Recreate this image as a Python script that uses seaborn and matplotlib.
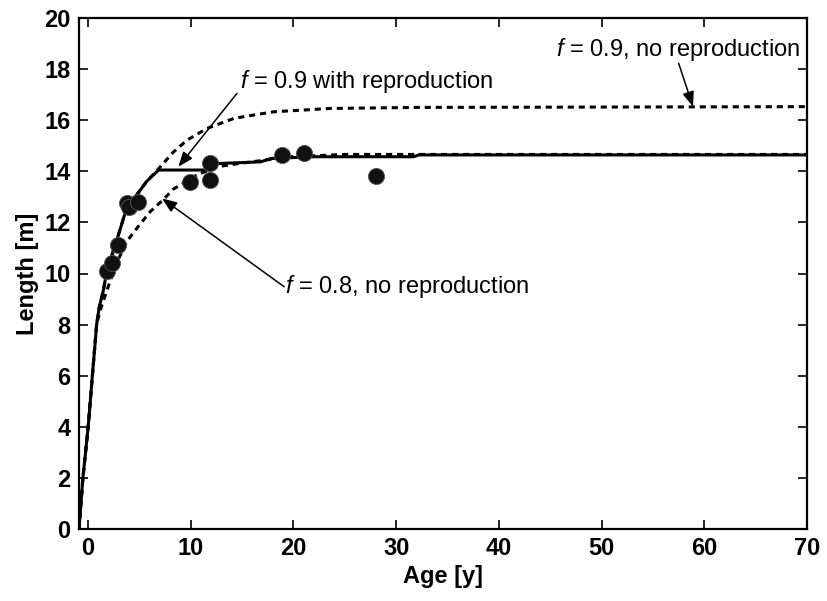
import matplotlib
matplotlib.use("Agg")
import matplotlib.pyplot as plt
import seaborn as sns
import pandas as pd

# ---- data ----
age_rep = [-0.88, -0.5, 0.03, 0.42, 0.85, 1.1, 1.5, 1.82, 2.64, 3.6, 4.6, 5.7, 6.87,
           11.6, 12.4, 16.8, 17.8, 22.0, 31.7, 32.2, 70.0]
len_rep = [0.0, 2.0, 4.07, 6.0, 8.05, 8.7, 9.35, 10.1, 11.1, 12.35, 13.0, 13.6, 14.05,
           14.05, 14.3, 14.37, 14.5, 14.57, 14.57, 14.64, 14.64]

age_f09 = [-0.88, -0.5, 0.03, 0.42, 0.85, 1.1, 1.5, 1.82, 2.64, 3.6, 4.6, 5.7, 6.87,
           8.3, 9.64, 11.6, 14.2, 15.8, 18.1, 23.6, 32.0, 70.0]
len_f09 = [0.0, 2.0, 4.07, 6.0, 8.05, 8.7, 9.35, 10.1, 11.1, 12.35, 13.0, 13.6, 14.1,
           14.75, 15.22, 15.68, 16.07, 16.18, 16.33, 16.46, 16.5, 16.53]

age_f08 = [-0.88, -0.5, 0.03, 0.42, 0.85, 1.3, 2.15, 3.0, 3.77, 4.75, 6.05, 7.35, 8.3,
           10.6, 12.6, 14.8, 19.7, 25.0, 70.0]
len_f08 = [0.0, 2.0, 4.07, 6.0, 8.05, 8.7, 9.7, 10.6, 11.25, 11.77, 12.42, 12.9, 13.3,
           13.86, 14.18, 14.31, 14.57, 14.66, 14.66]

obs_age = [1.82, 2.3, 2.96, 3.78, 4.0, 4.9, 9.96, 11.9, 11.9, 18.9, 21.0, 28.0]
obs_len = [10.1, 10.4, 11.1, 12.75, 12.6, 12.8, 13.6, 13.66, 14.31, 14.64, 14.72, 13.81]

x_ticks = [0, 10, 20, 30, 40, 50, 60, 70]
y_ticks = [0, 2, 4, 6, 8, 10, 12, 14, 16, 18, 20]

sns.set_theme(style="ticks")
plt.rcParams["font.family"] = ["Liberation Sans", "DejaVu Sans"]
plt.rcParams["mathtext.fontset"] = "custom"
plt.rcParams["mathtext.it"] = "Liberation Sans:italic"
plt.rcParams["mathtext.rm"] = "Liberation Sans"
plt.rcParams["text.color"] = "black"
plt.rcParams["axes.labelcolor"] = "black"
plt.rcParams["xtick.color"] = "black"
plt.rcParams["ytick.color"] = "black"

fig = plt.figure(figsize=(8.27, 6.01), dpi=100)
ax = fig.add_axes([79 / 827, 1 - 529 / 601, (807 - 79) / 827, (529 - 18) / 601])

df_rep = pd.DataFrame({"age": age_rep, "len": len_rep})
df_f09 = pd.DataFrame({"age": age_f09, "len": len_f09})
df_f08 = pd.DataFrame({"age": age_f08, "len": len_f08})
df_obs = pd.DataFrame({"age": obs_age, "len": obs_len})

dot = (0, (2.0, 1.6))
sns.lineplot(data=df_rep, x="age", y="len", ax=ax, color="black", lw=2.2,
             sort=False, estimator=None, zorder=3)
sns.lineplot(data=df_f09, x="age", y="len", ax=ax, color="black", lw=2.2,
             linestyle=dot, sort=False, estimator=None, zorder=2)
sns.lineplot(data=df_f08, x="age", y="len", ax=ax, color="black", lw=2.2,
             linestyle=dot, sort=False, estimator=None, zorder=4)
sns.scatterplot(data=df_obs, x="age", y="len", ax=ax, color="#111111",
                edgecolor="#555555", linewidth=0.6, s=135, zorder=5)

ax.set_xlim(-0.88, 70)
ax.set_ylim(0, 20)
ax.set_xticks(x_ticks)
ax.set_yticks(y_ticks)
ax.set_xlabel("Age [y]", fontsize=17, fontweight="bold", labelpad=3)
ax.set_ylabel("Length [m]", fontsize=17, fontweight="bold", labelpad=4)
ax.tick_params(direction="in", top=True, right=True, length=6.5, width=1.2,
               labelsize=17, pad=6, colors="black")
for lab in ax.get_xticklabels() + ax.get_yticklabels():
    lab.set_fontweight("bold")
for sp in ax.spines.values():
    sp.set_linewidth(1.6)
    sp.set_color("black")

arrow = dict(arrowstyle="-|>,head_length=0.9,head_width=0.35", mutation_scale=10,
             lw=1.1, color="black", shrinkA=0, shrinkB=0)
ax.text(14.75, 17.5, "$f$ = 0.9 with reproduction", fontsize=17, ha="left",
        va="center", color="black")
ax.annotate("", xy=(8.8, 14.18), xytext=(14.5, 17.05), arrowprops=arrow)
ax.text(19.2, 9.5, "$f$ = 0.8, no reproduction", fontsize=17, ha="left",
        va="center", color="black")
ax.annotate("", xy=(7.2, 12.94), xytext=(19.1, 9.48), arrowprops=arrow)
ax.text(45.6, 18.75, "$f$ = 0.9, no reproduction", fontsize=17, ha="left",
        va="center", color="black")
ax.annotate("", xy=(58.9, 16.53), xytext=(57.5, 18.23), arrowprops=arrow)

fig.savefig("out.png", dpi=100)
